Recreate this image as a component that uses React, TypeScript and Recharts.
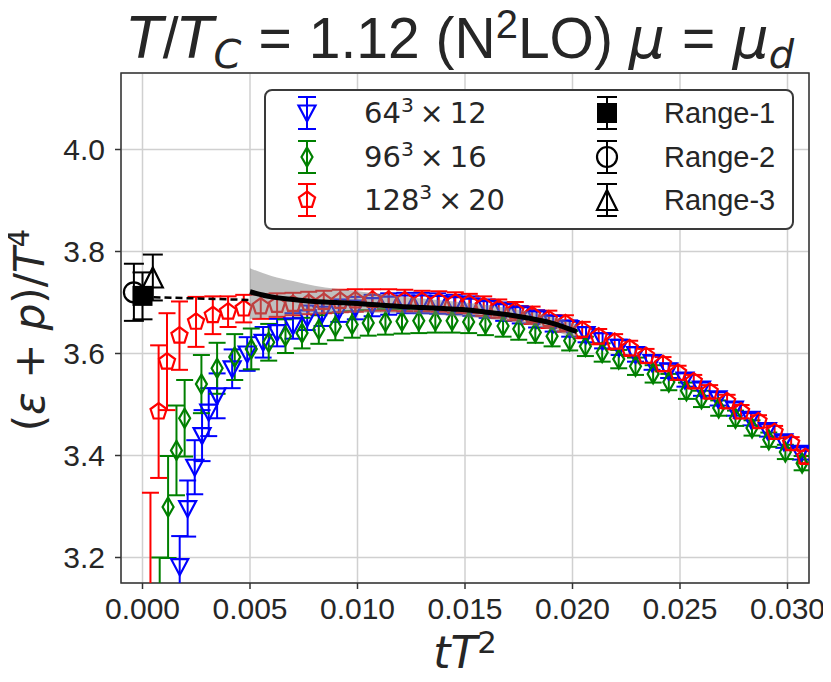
import React from "react"
import {
  ComposedChart,
  Scatter,
  ErrorBar,
  XAxis,
  YAxis,
  CartesianGrid,
  Area,
  Line,
  ReferenceArea,
  Legend,
} from "recharts"

type Row = [number, number, number] // tT^2, (e+p)/T^4, error

// lattice data
const lat64x12: Row[] = [
  [0.00173, 3.182, 0.06], [0.0021, 3.296, 0.055], [0.00243, 3.377, 0.053], [0.00277, 3.439, 0.05],
  [0.00308, 3.485, 0.047], [0.00347, 3.517, 0.044], [0.00417, 3.57, 0.038], [0.00487, 3.599, 0.033],
  [0.00561, 3.622, 0.03], [0.00626, 3.641, 0.027], [0.007, 3.654, 0.025], [0.00766, 3.67, 0.024],
  [0.00835, 3.677, 0.023], [0.00913, 3.684, 0.022], [0.0099, 3.689, 0.022], [0.01068, 3.694, 0.021],
  [0.01145, 3.697, 0.021], [0.0122, 3.699, 0.02], [0.01297, 3.699, 0.02], [0.01373, 3.698, 0.02],
  [0.0145, 3.696, 0.019], [0.01527, 3.693, 0.019], [0.01603, 3.688, 0.018], [0.0168, 3.682, 0.018],
  [0.01757, 3.676, 0.017], [0.01833, 3.668, 0.017], [0.0191, 3.659, 0.016], [0.01987, 3.649, 0.016],
  [0.02063, 3.637, 0.015], [0.0214, 3.625, 0.015], [0.02217, 3.612, 0.015], [0.02293, 3.598, 0.014],
  [0.0237, 3.582, 0.014], [0.02447, 3.566, 0.014], [0.02523, 3.548, 0.013], [0.026, 3.53, 0.013],
  [0.02677, 3.511, 0.013], [0.02753, 3.491, 0.013], [0.0283, 3.471, 0.012], [0.02907, 3.449, 0.012],
  [0.02983, 3.427, 0.012], [0.0306, 3.404, 0.012],
]

const lat96x16: Row[] = [
  [0.0008, 3.06, 0.14], [0.00119, 3.299, 0.1], [0.00158, 3.41, 0.088], [0.00196, 3.473, 0.075],
  [0.00274, 3.54, 0.057], [0.00347, 3.571, 0.05], [0.00429, 3.593, 0.045], [0.00506, 3.609, 0.04],
  [0.00587, 3.622, 0.036], [0.00665, 3.634, 0.033], [0.00742, 3.64, 0.03], [0.0082, 3.647, 0.028],
  [0.00897, 3.653, 0.027], [0.00975, 3.657, 0.026], [0.0105, 3.66, 0.025], [0.0113, 3.662, 0.025],
  [0.01207, 3.663, 0.024], [0.01285, 3.664, 0.024], [0.01362, 3.664, 0.023], [0.0144, 3.664, 0.023],
  [0.01517, 3.662, 0.022], [0.01595, 3.658, 0.022], [0.01677, 3.654, 0.021], [0.0175, 3.648, 0.021],
  [0.01827, 3.641, 0.02], [0.01905, 3.634, 0.02], [0.01987, 3.625, 0.019], [0.0206, 3.614, 0.019],
  [0.02138, 3.602, 0.018], [0.02215, 3.589, 0.018], [0.02293, 3.575, 0.017], [0.02375, 3.56, 0.017],
  [0.02448, 3.544, 0.016], [0.0253, 3.527, 0.016], [0.026, 3.511, 0.016], [0.0268, 3.493, 0.015],
  [0.02758, 3.473, 0.015], [0.02835, 3.454, 0.015], [0.02913, 3.431, 0.014], [0.0299, 3.407, 0.014],
  [0.03068, 3.385, 0.014],
]

const lat128x20: Row[] = [
  [0.00037, 3.05, 0.277], [0.00075, 3.486, 0.13], [0.00114, 3.584, 0.095], [0.00172, 3.635, 0.067],
  [0.00249, 3.662, 0.049], [0.00327, 3.675, 0.037], [0.00398, 3.682, 0.03], [0.00471, 3.688, 0.027],
  [0.0055, 3.692, 0.024], [0.00626, 3.695, 0.023], [0.007, 3.697, 0.022], [0.00773, 3.699, 0.022],
  [0.00843, 3.701, 0.022], [0.0092, 3.703, 0.022], [0.0099, 3.704, 0.022], [0.0107, 3.705, 0.021],
  [0.01145, 3.705, 0.021], [0.0122, 3.704, 0.021], [0.013, 3.703, 0.02], [0.01378, 3.702, 0.02],
  [0.01455, 3.7, 0.02], [0.0152, 3.698, 0.019], [0.01587, 3.693, 0.019], [0.01657, 3.688, 0.018],
  [0.01734, 3.683, 0.018], [0.01812, 3.675, 0.017], [0.0189, 3.667, 0.017], [0.01967, 3.659, 0.016],
  [0.02045, 3.646, 0.016], [0.02122, 3.633, 0.015], [0.02196, 3.623, 0.015], [0.02266, 3.61, 0.015],
  [0.02342, 3.595, 0.014], [0.02421, 3.579, 0.014], [0.02491, 3.562, 0.014], [0.02564, 3.545, 0.013],
  [0.02638, 3.525, 0.013], [0.02719, 3.506, 0.013], [0.02784, 3.486, 0.013], [0.02865, 3.467, 0.012],
  [0.0294, 3.446, 0.012], [0.03017, 3.424, 0.012], [0.03083, 3.397, 0.012],
]

// continuum extrapolations
const range1: Row[] = [[0.0, 3.713, 0.046]]
const range2: Row[] = [[-0.0004, 3.72, 0.056]]
const range3: Row[] = [[0.00048, 3.749, 0.045]]

// fit over the window: tT^2, lower, upper, central
const fitWindow: [number, number, number, number][] = [
  [0.005, 3.667, 3.767, 3.721], [0.006, 3.671, 3.752, 3.711], [0.007, 3.674, 3.742, 3.706],
  [0.008, 3.677, 3.733, 3.702], [0.009, 3.679, 3.727, 3.7], [0.01, 3.68, 3.722, 3.698],
  [0.011, 3.68, 3.717, 3.695], [0.012, 3.679, 3.712, 3.692], [0.013, 3.677, 3.708, 3.69],
  [0.014, 3.675, 3.704, 3.688], [0.015, 3.672, 3.7, 3.686], [0.016, 3.668, 3.695, 3.681],
  [0.017, 3.663, 3.689, 3.676], [0.018, 3.656, 3.682, 3.669], [0.019, 3.646, 3.673, 3.66],
  [0.02, 3.632, 3.66, 3.646], [0.0202, 3.629, 3.657, 3.643],
]

const extrapLine: [number, number][] = [[0.0, 3.711], [0.005, 3.705]]

const xTicks = [0, 0.005, 0.01, 0.015, 0.02, 0.025, 0.03]
const yTicks = [3.2, 3.4, 3.6, 3.8, 4.0]

const BLUE = "#0000ff"
const GREEN = "#008000"
const RED = "#ff0000"
const INK = "#262626"
const sans = "'Liberation Sans', Arial, sans-serif"
const mathFont = "'DejaVu Sans', sans-serif"

type Kind = "triDown" | "thinDiamond" | "pentagon" | "square" | "circle" | "triUp"

const lattice = [
  { name: "64", exp: "3", tail: "12", kind: "triDown" as Kind, color: BLUE, rows: lat64x12 },
  { name: "96", exp: "3", tail: "16", kind: "thinDiamond" as Kind, color: GREEN, rows: lat96x16 },
  { name: "128", exp: "3", tail: "20", kind: "pentagon" as Kind, color: RED, rows: lat128x20 },
]

const ranges = [
  { name: "Range-1", kind: "square" as Kind, rows: range1 },
  { name: "Range-2", kind: "circle" as Kind, rows: range2 },
  { name: "Range-3", kind: "triUp" as Kind, rows: range3 },
]

const toPts = (rows: Row[]) => rows.map(([t, v, err]) => ({ t, v, err }))
const bandRows = fitWindow.map(([t, lo, hi, fit]) => ({ t, band: [lo, hi], fit }))
const dashRows = extrapLine.map(([t, ext]) => ({ t, ext }))

function Marker({ kind, cx, cy, color }: { kind: Kind; cx: number; cy: number; color: string }) {
  const sw = 2.2
  if (kind === "triDown") {
    return <polygon points={`${cx - 8.5},${cy - 7.5} ${cx + 8.5},${cy - 7.5} ${cx},${cy + 8.5}`} fill="none" stroke={color} strokeWidth={sw} />
  }
  if (kind === "thinDiamond") {
    return <polygon points={`${cx},${cy - 9.5} ${cx + 5.5},${cy} ${cx},${cy + 9.5} ${cx - 5.5},${cy}`} fill="none" stroke={color} strokeWidth={sw} />
  }
  if (kind === "pentagon") {
    const r = 8.5
    const pts = [0, 1, 2, 3, 4]
      .map((k) => {
        const a = ((-90 + 72 * k) * Math.PI) / 180
        return `${cx + r * Math.cos(a)},${cy + r * Math.sin(a)}`
      })
      .join(" ")
    return <polygon points={pts} fill="none" stroke={color} strokeWidth={sw} />
  }
  if (kind === "square") {
    return <rect x={cx - 10} y={cy - 10} width={20} height={20} fill={color} />
  }
  if (kind === "circle") {
    return <circle cx={cx} cy={cy} r={10} fill="none" stroke={color} strokeWidth={sw} />
  }
  return <polygon points={`${cx},${cy - 10} ${cx + 10},${cy + 10} ${cx - 10},${cy + 10}`} fill="none" stroke={color} strokeWidth={sw} />
}

const LegendIcon = ({ kind, color, cap }: { kind: Kind; color: string; cap: number }) => (
  <svg width={30} height={40} style={{ position: "absolute", left: -15, top: -20 }}>
    <line x1={15} y1={4} x2={15} y2={36} stroke={color} strokeWidth={2} />
    <line x1={15 - cap} y1={4} x2={15 + cap} y2={4} stroke={color} strokeWidth={2} />
    <line x1={15 - cap} y1={36} x2={15 + cap} y2={36} stroke={color} strokeWidth={2} />
    <Marker kind={kind} cx={15} cy={20} color={color} />
  </svg>
)

const rowY = [22, 66, 109]

const renderLegend = () => (
  <div
    style={{
      position: "relative",
      width: 530,
      height: 141,
      boxSizing: "border-box",
      border: "2px solid #3a3a3a",
      borderRadius: 8,
      background: "#fff",
      fontFamily: sans,
      fontSize: 29,
      color: INK,
    }}
  >
    {lattice.map((s, i) => (
      <div key={s.name} style={{ position: "absolute", left: 41, top: rowY[i] }}>
        <LegendIcon kind={s.kind} color={s.color} cap={9} />
        <span style={{ position: "absolute", left: 57, top: -17, lineHeight: "34px", whiteSpace: "nowrap", fontFamily: mathFont }}>
          {s.name}
          <span style={{ fontSize: "0.7em", position: "relative", top: "-0.55em" }}>{s.exp}</span>
          <span style={{ margin: "0 0.2em" }}>×</span>
          {s.tail}
        </span>
      </div>
    ))}
    {ranges.map((s, i) => (
      <div key={s.name} style={{ position: "absolute", left: 341, top: rowY[i] }}>
        <LegendIcon kind={s.kind} color="#000" cap={10} />
        <span style={{ position: "absolute", left: 57, top: -17, lineHeight: "34px", whiteSpace: "nowrap" }}>{s.name}</span>
      </div>
    ))}
  </div>
)

const it = { fontFamily: mathFont, fontStyle: "italic" as const }
const subIt = { ...it, fontSize: "0.7em", position: "relative" as const, top: "0.25em" }
const sup = { fontSize: "0.7em", position: "relative" as const, top: "-0.5em" }

export default function App() {
  const tick = { fill: INK, fontSize: 30, fontFamily: sans }
  return (
    <div style={{ position: "relative", width: 823, height: 666, background: "#fff" }}>
      {/* plot-area clip for error bars that run past the axes */}
      <svg width={0} height={0} style={{ position: "absolute" }}>
        <defs>
          <clipPath id="plot-clip" clipPathUnits="userSpaceOnUse">
            <rect x={113} y={65} width={688} height={510} />
          </clipPath>
        </defs>
      </svg>
      <style>{`.recharts-errorBars, .recharts-errorBar { clip-path: url(#plot-clip); }`}</style>

      <ComposedChart width={823} height={666} data={bandRows} margin={{ top: 65, right: 22, bottom: 51, left: 0 }}>
        <CartesianGrid stroke="#d0d0d0" strokeWidth={1.5} />
        <XAxis
          type="number"
          dataKey="t"
          domain={[-0.001, 0.031]}
          ticks={xTicks}
          interval={0}
          allowDataOverflow
          tickFormatter={(v: number) => v.toFixed(3)}
          tick={tick}
          tickLine={{ stroke: "#333", strokeWidth: 1.5 }}
          tickSize={6}
          tickMargin={9}
          axisLine={false}
          height={40}
        />
        <YAxis
          type="number"
          dataKey="v"
          domain={[3.15, 4.15]}
          ticks={yTicks}
          interval={0}
          allowDataOverflow
          tickFormatter={(v: number) => v.toFixed(1)}
          tick={tick}
          tickLine={{ stroke: "#333", strokeWidth: 1.5 }}
          tickSize={6}
          tickMargin={10}
          axisLine={false}
          width={113}
        />
        {lattice.map((s) => (
          <Scatter
            key={s.name}
            data={toPts(s.rows)}
            isAnimationActive={false}
            zIndex={500}
            shape={(p: any) => <Marker kind={s.kind} cx={p.cx} cy={p.cy} color={s.color} />}
          >
            <ErrorBar dataKey="err" direction="y" width={8.5} stroke={s.color} strokeWidth={2} />
          </Scatter>
        ))}
        <Area dataKey="band" type="monotone" stroke="none" fill="#808080" fillOpacity={0.5} isAnimationActive={false} zIndex={700} />
        <Line dataKey="fit" type="monotone" stroke="#000" strokeWidth={5} dot={false} isAnimationActive={false} zIndex={800} />
        <Line data={dashRows} dataKey="ext" type="linear" stroke="#000" strokeWidth={2.5} strokeDasharray="7 4" dot={false} isAnimationActive={false} zIndex={800} />
        {ranges.map((s) => (
          <Scatter
            key={s.name}
            data={toPts(s.rows)}
            isAnimationActive={false}
            zIndex={900}
            shape={(p: any) => <Marker kind={s.kind} cx={p.cx} cy={p.cy} color="#000" />}
          >
            <ErrorBar dataKey="err" direction="y" width={10} stroke="#000" strokeWidth={2} />
          </Scatter>
        ))}
        <ReferenceArea x1={-0.001} x2={0.031} y1={3.15} y2={4.15} fill="none" stroke="#333" strokeWidth={1.5} ifOverflow="visible" />
        <Legend
          content={renderLegend}
          verticalAlign="middle"
          align="center"
          wrapperStyle={{ left: 256, top: 81, width: 530, height: 141 }}
        />
      </ComposedChart>

      <div
        style={{
          position: "absolute",
          left: 53,
          top: 2,
          width: 800,
          textAlign: "center",
          fontFamily: sans,
          fontSize: 57,
          lineHeight: "57px",
          color: INK,
          whiteSpace: "nowrap",
        }}
      >
        <span style={it}>T</span>/<span style={it}>T</span>
        <span style={subIt}>C</span>
        <span style={{ margin: "0 0.3em" }}>=</span>1.12 (N<span style={sup}>2</span>LO) <span style={it}>μ</span>
        <span style={{ margin: "0 0.3em" }}>=</span>
        <span style={it}>μ</span>
        <span style={subIt}>d</span>
      </div>

      <div
        style={{
          position: "absolute",
          left: 22 - 200,
          top: 322 - 25,
          width: 400,
          height: 50,
          lineHeight: "50px",
          textAlign: "center",
          transform: "rotate(-90deg)",
          fontFamily: mathFont,
          fontSize: 42,
          color: INK,
          whiteSpace: "nowrap",
        }}
      >
        (<span style={it}>ε</span> + <span style={it}>p</span>)/<span style={it}>T</span>
        <span style={sup}>4</span>
      </div>

      <div
        style={{
          position: "absolute",
          left: 257,
          top: 623,
          width: 400,
          lineHeight: "44px",
          textAlign: "center",
          fontFamily: mathFont,
          fontSize: 44,
          color: INK,
        }}
      >
        <span style={it}>tT</span>
        <span style={sup}>2</span>
      </div>
    </div>
  )
}
